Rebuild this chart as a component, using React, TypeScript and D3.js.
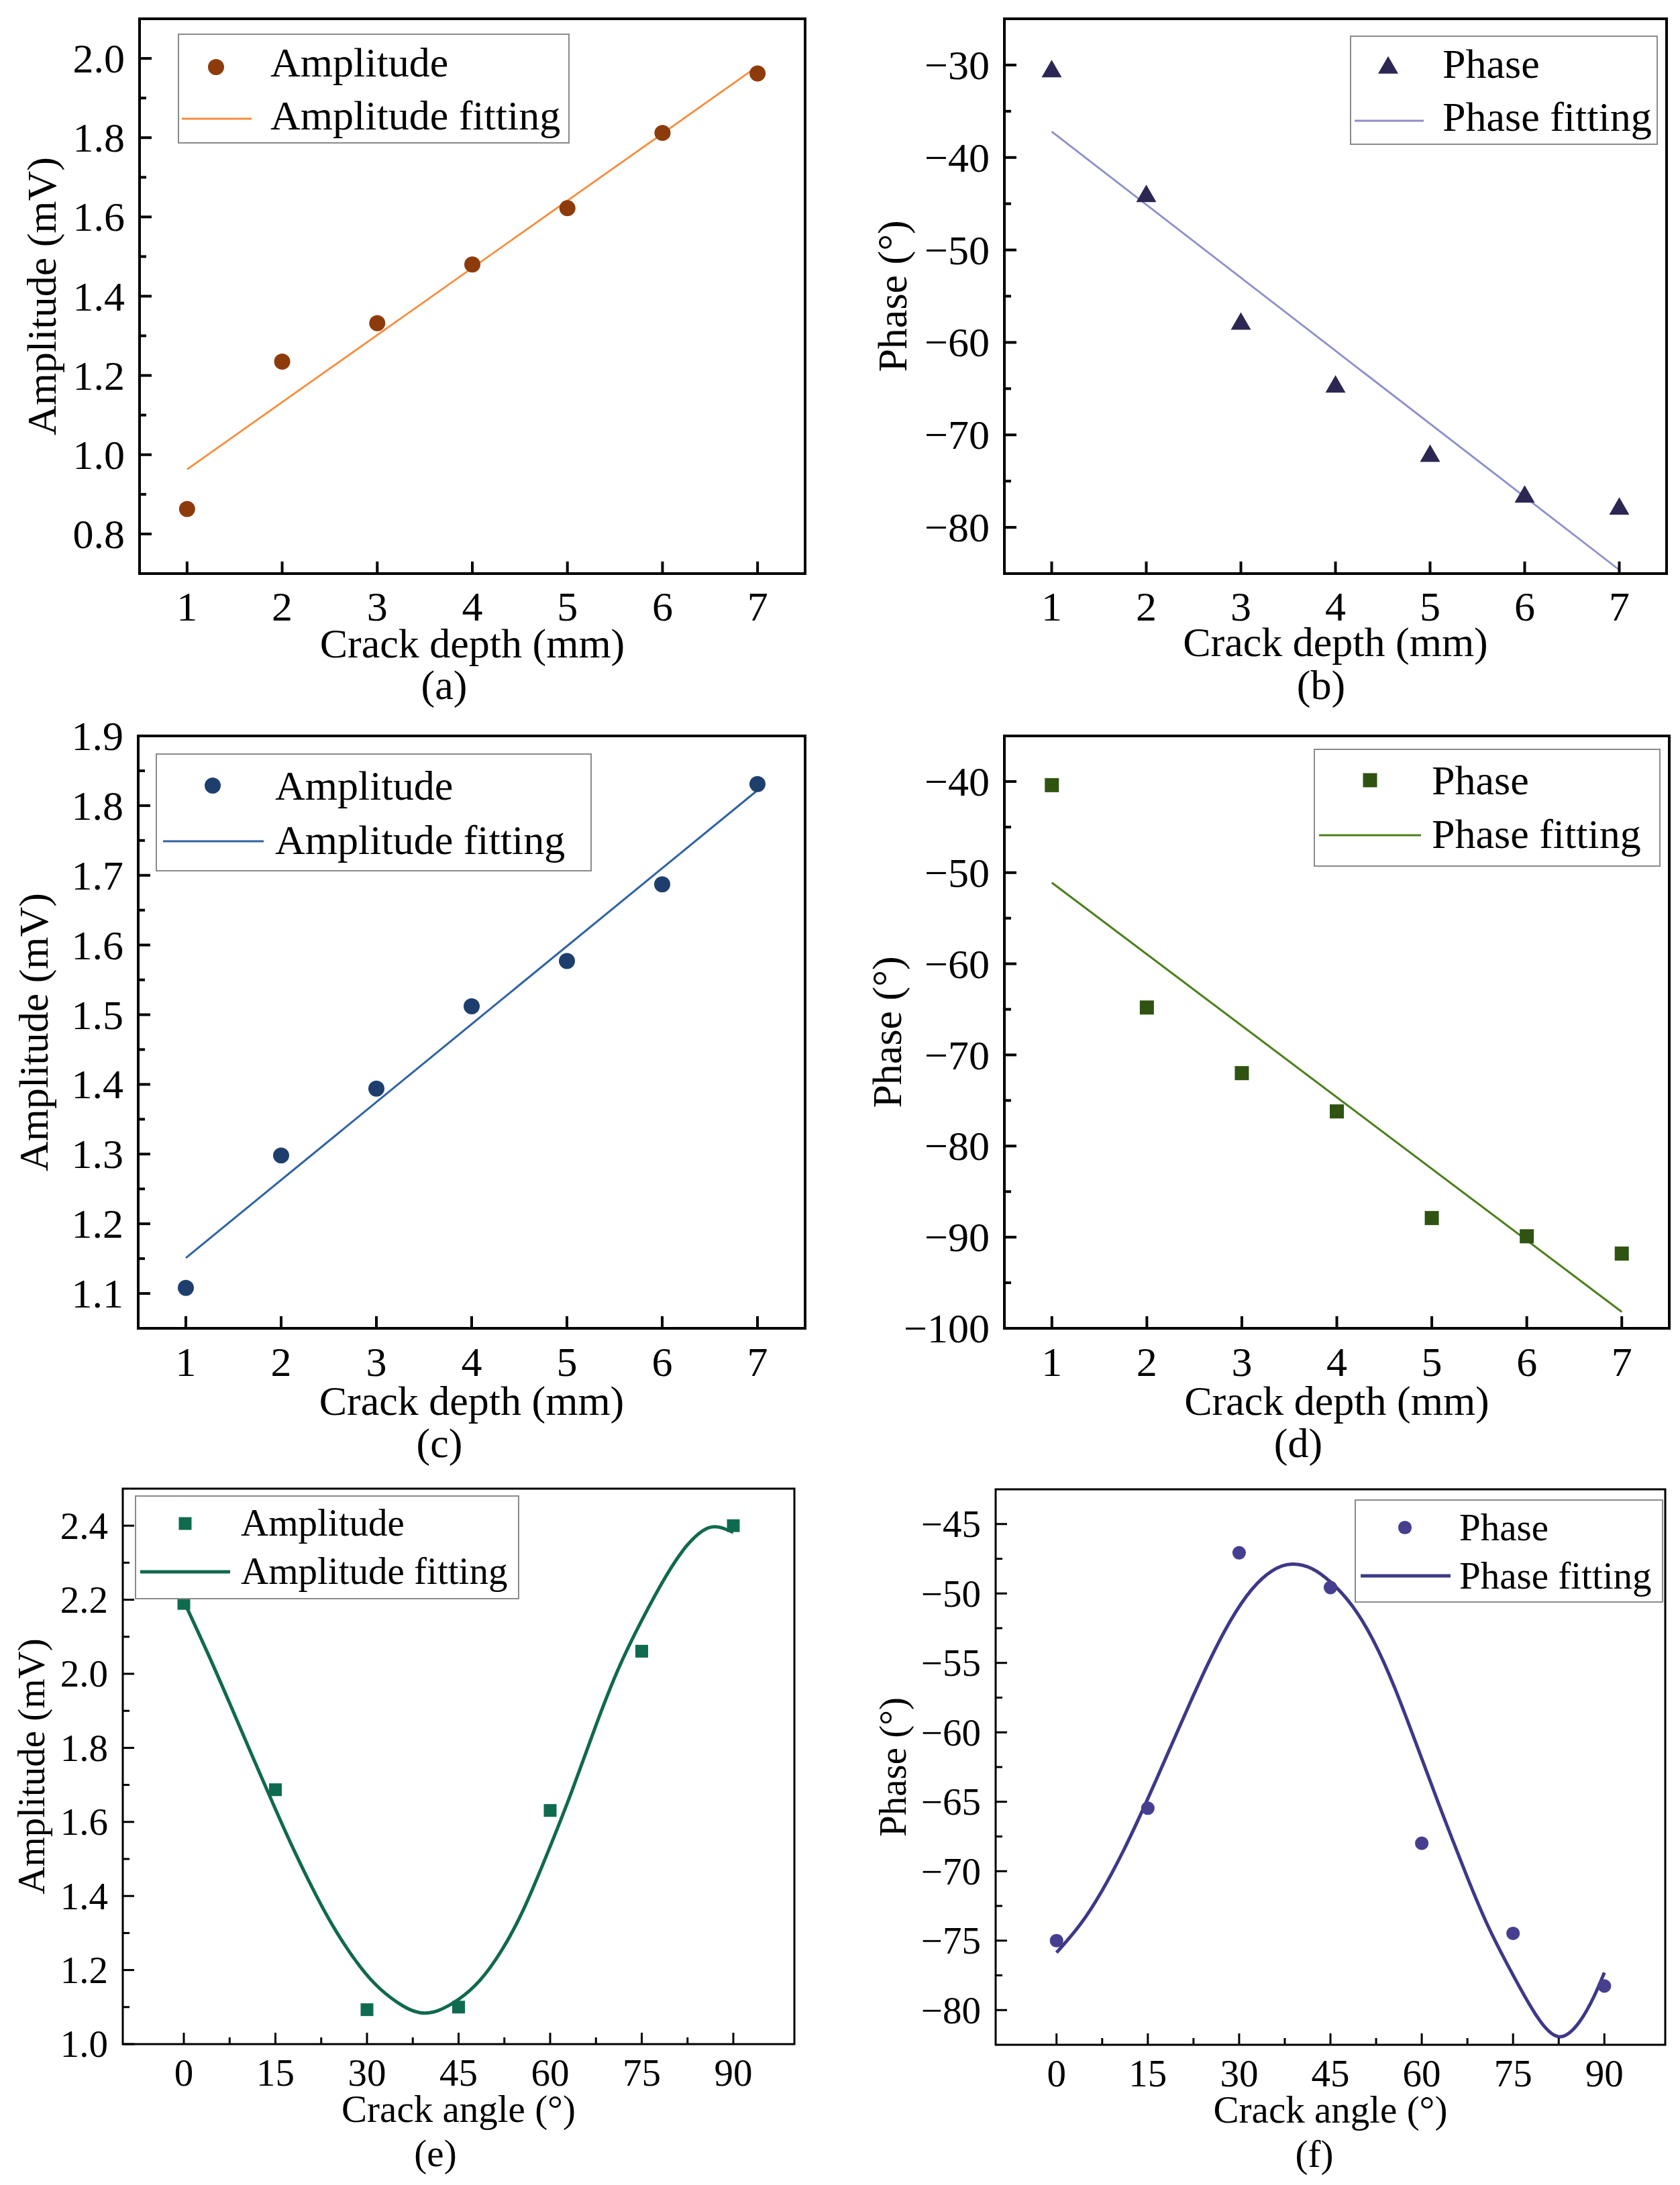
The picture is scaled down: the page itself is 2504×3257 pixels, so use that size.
import React from "react";
import * as d3 from "d3";

// ---- data ----
const depth = [1, 2, 3, 4, 5, 6, 7];
const fitDepth = [1, 7];
const angle = [0, 15, 30, 45, 60, 75, 90];

const ampA = [0.863, 1.235, 1.332, 1.48, 1.622, 1.812, 1.962];
const ampAFit = [0.963, 1.98];
const phaseB = [-30.7, -44.2, -58.0, -64.8, -72.3, -76.7, -78.0];
const phaseBFit = [-37.2, -84.6];
const ampC = [1.108, 1.298, 1.394, 1.512, 1.577, 1.687, 1.831];
const ampCFit = [1.151, 1.822];
const phaseD = [-40.4, -64.8, -72.0, -76.2, -87.9, -89.9, -91.8];
const phaseDFit = [-51.1, -98.2];
const ampE = [2.19, 1.687, 1.093, 1.1, 1.631, 2.061, 2.4];
const phaseF = [-75.0, -65.46, -47.07, -49.57, -67.99, -74.48, -78.27];

// fitted curves of (e) and (f), sampled along the drawn curve
const fitAngleE = [0, 4, 7.5, 11, 15, 18, 22, 25, 29, 32, 36, 38.7, 41.5, 45, 48.5, 52, 55.5, 60, 63.5, 67.5, 71, 75, 79, 82.5, 86, 88, 90];
const ampEFit = [2.196, 2.054, 1.921, 1.786, 1.634, 1.523, 1.389, 1.3, 1.203, 1.148, 1.099, 1.081, 1.086, 1.118, 1.167, 1.248, 1.352, 1.533, 1.678, 1.863, 2.013, 2.146, 2.268, 2.355, 2.402, 2.396, 2.382];
const fitAngleF = [0, 4, 7.5, 11, 15, 18, 22, 25, 28.5, 32, 35.5, 38.7, 42, 45, 48.5, 52, 55.5, 60, 63.5, 67.5, 71, 75, 79, 82.5, 86, 88.5, 90];
const phaseFFit = [-75.86, -73.9, -71.45, -68.6, -64.8, -61.8, -57.8, -54.9, -51.9, -49.6, -48.2, -47.75, -48.1, -49.1, -50.7, -53.2, -56.6, -61.9, -66.0, -70.5, -74.2, -77.5, -80.7, -82.45, -81.0, -78.9, -77.3];

// ticks
const depthTicks = [1, 2, 3, 4, 5, 6, 7];
const angleTicks = [0, 15, 30, 45, 60, 75, 90];
const angleMinor = [7.5, 22.5, 37.5, 52.5, 67.5, 82.5];
const ampATicks = [0.8, 1.0, 1.2, 1.4, 1.6, 1.8, 2.0];
const ampAMinor = [0.9, 1.1, 1.3, 1.5, 1.7, 1.9];
const phaseBTicks = [-80, -70, -60, -50, -40, -30];
const phaseBMinor = [-75, -65, -55, -45, -35];
const ampCTicks = [1.1, 1.2, 1.3, 1.4, 1.5, 1.6, 1.7, 1.8, 1.9];
const ampCMinor = [1.15, 1.25, 1.35, 1.45, 1.55, 1.65, 1.75, 1.85];
const phaseDTicks = [-100, -90, -80, -70, -60, -50, -40];
const phaseDMinor = [-95, -85, -75, -65, -55, -45];
const ampETicks = [1.0, 1.2, 1.4, 1.6, 1.8, 2.0, 2.2, 2.4];
const ampEMinor = [1.1, 1.3, 1.5, 1.7, 1.9, 2.1, 2.3];
const phaseFTicks = [-80, -75, -70, -65, -60, -55, -50, -45];
const phaseFMinor = [-77.5, -72.5, -67.5, -62.5, -57.5, -52.5, -47.5];

const FONT = "'Liberation Serif', 'Times New Roman', serif";

type Legend = {
  box: [number, number, number, number];
  mx: number; my: number;
  lx: [number, number]; ly: number;
  tx: number; b1: number; b2: number;
  names: [string, string];
};

type Cfg = {
  box: [number, number, number, number];
  xDomain: [number, number]; yDomain: [number, number];
  xTicks: number[]; xMinor: number[]; yTicks: number[]; yMinor: number[];
  yFormat: string;
  xs: number[]; ys: number[]; fitX: number[]; fitY: number[]; smooth: boolean;
  marker: d3.SymbolType; markerSize: number; markerColor: string;
  lineColor: string; lineWidth: number;
  font: number; axisWidth: number; tickMajor: number; tickMinor: number;
  xTitle: string; yTitle: string; yTitleX: number;
  label: string; labelX: number; offs: [number, number, number];
  legend: Legend;
};

function Panel({ p }: { p: Cfg }) {
  const [l, t, r, b] = p.box;
  const x = d3.scaleLinear().domain(p.xDomain).range([l, r]);
  const y = d3.scaleLinear().domain(p.yDomain).range([b, t]);
  const fmt = d3.format(p.yFormat);
  const line = d3
    .line<number>()
    .x((_, i) => x(p.fitX[i]))
    .y((d) => y(d));
  if (p.smooth) line.curve(d3.curveBasis);
  const sym = d3.symbol().type(p.marker).size(p.markerSize)() || "";
  const lg = p.legend;
  const tickStroke = { stroke: "#000", strokeWidth: p.axisWidth };

  return (
    <g fontFamily={FONT} fontSize={p.font} fill="#000">
      <path d={line(p.fitY) || ""} fill="none" stroke={p.lineColor} strokeWidth={p.lineWidth} />
      {p.xs.map((d, i) => (
        <path key={i} d={sym} transform={`translate(${x(d)},${y(p.ys[i])})`} fill={p.markerColor} />
      ))}

      {/* legend */}
      <rect x={lg.box[0]} y={lg.box[1]} width={lg.box[2] - lg.box[0]} height={lg.box[3] - lg.box[1]}
        fill="#fff" stroke="#8a8a8a" strokeWidth={2} />
      <path d={sym} transform={`translate(${lg.mx},${lg.my})`} fill={p.markerColor} />
      <line x1={lg.lx[0]} x2={lg.lx[1]} y1={lg.ly} y2={lg.ly} stroke={p.lineColor} strokeWidth={p.lineWidth} />
      <text x={lg.tx} y={lg.b1}>{lg.names[0]}</text>
      <text x={lg.tx} y={lg.b2}>{lg.names[1]}</text>

      {/* frame */}
      <rect x={l} y={t} width={r - l} height={b - t} fill="none" stroke="#000" strokeWidth={p.axisWidth} />

      {p.xTicks.map((v) => (
        <g key={"xt" + v}>
          <line x1={x(v)} x2={x(v)} y1={b} y2={b - p.tickMajor} {...tickStroke} />
          <text x={x(v)} y={b + p.offs[0]} textAnchor="middle">{v}</text>
        </g>
      ))}
      {p.xMinor.map((v) => (
        <line key={"xm" + v} x1={x(v)} x2={x(v)} y1={b} y2={b - p.tickMinor} {...tickStroke} />
      ))}
      {p.yTicks.map((v) => (
        <g key={"yt" + v}>
          <line x1={l} x2={l + p.tickMajor} y1={y(v)} y2={y(v)} {...tickStroke} />
          <text x={l - 22} y={y(v)} dy="0.34em" textAnchor="end">{fmt(v)}</text>
        </g>
      ))}
      {p.yMinor.map((v) => (
        <line key={"ym" + v} x1={l} x2={l + p.tickMinor} y1={y(v)} y2={y(v)} {...tickStroke} />
      ))}

      <text x={(l + r) / 2} y={b + p.offs[1]} textAnchor="middle">{p.xTitle}</text>
      <text x={p.labelX} y={b + p.offs[2]} textAnchor="middle">{p.label}</text>
      <text transform={`translate(${p.yTitleX},${(t + b) / 2}) rotate(-90)`} textAnchor="middle">{p.yTitle}</text>
    </g>
  );
}

const circle = d3.symbolCircle;
const square = d3.symbolSquare;
const triangle = d3.symbolTriangle;

const panels: Cfg[] = [
  {
    box: [208, 28, 1200, 855], xDomain: [0.5, 7.5], yDomain: [0.7, 2.1],
    xTicks: depthTicks, xMinor: [], yTicks: ampATicks, yMinor: ampAMinor, yFormat: ".1f",
    xs: depth, ys: ampA, fitX: fitDepth, fitY: ampAFit, smooth: false,
    marker: circle, markerSize: 452, markerColor: "#8E3B0B", lineColor: "#F88D3E", lineWidth: 2.8,
    font: 62, axisWidth: 4, tickMajor: 18, tickMinor: 10,
    xTitle: "Crack depth (mm)", yTitle: "Amplitude (mV)", yTitleX: 83,
    label: "(a)", labelX: 662, offs: [70, 125, 187],
    legend: { box: [266, 51, 848, 213], mx: 322, my: 100, lx: [271, 375], ly: 177, tx: 403, b1: 114, b2: 193, names: ["Amplitude", "Amplitude fitting"] },
  },
  {
    box: [1497, 28, 2484, 855], xDomain: [0.5, 7.5], yDomain: [-85, -25],
    xTicks: depthTicks, xMinor: [], yTicks: phaseBTicks, yMinor: phaseBMinor, yFormat: "d",
    xs: depth, ys: phaseB, fitX: fitDepth, fitY: phaseBFit, smooth: false,
    marker: triangle, markerSize: 390, markerColor: "#2B2752", lineColor: "#8C8ECC", lineWidth: 2.8,
    font: 62, axisWidth: 4, tickMajor: 18, tickMinor: 10,
    xTitle: "Crack depth (mm)", yTitle: "Phase (°)", yTitleX: 1351,
    label: "(b)", labelX: 1969, offs: [70, 123, 187],
    legend: { box: [2013, 54, 2470, 215], mx: 2069, my: 101, lx: [2019, 2122], ly: 180, tx: 2150, b1: 116, b2: 195, names: ["Phase", "Phase fitting"] },
  },
  {
    box: [206, 1097, 1200, 1980], xDomain: [0.5, 7.5], yDomain: [1.05, 1.9],
    xTicks: depthTicks, xMinor: [], yTicks: ampCTicks, yMinor: ampCMinor, yFormat: ".1f",
    xs: depth, ys: ampC, fitX: fitDepth, fitY: ampCFit, smooth: false,
    marker: circle, markerSize: 452, markerColor: "#1E3F6E", lineColor: "#2F62A3", lineWidth: 3,
    font: 62, axisWidth: 4, tickMajor: 18, tickMinor: 10,
    xTitle: "Crack depth (mm)", yTitle: "Amplitude (mV)", yTitleX: 71,
    label: "(c)", labelX: 655, offs: [71, 129, 192],
    legend: { box: [233, 1124, 881, 1298], mx: 317, my: 1171, lx: [243, 393], ly: 1254, tx: 410, b1: 1192, b2: 1273, names: ["Amplitude", "Amplitude fitting"] },
  },
  {
    box: [1497, 1097, 2488, 1980], xDomain: [0.5, 7.5], yDomain: [-100, -35],
    xTicks: depthTicks, xMinor: [], yTicks: phaseDTicks, yMinor: phaseDMinor, yFormat: "d",
    xs: depth, ys: phaseD, fitX: fitDepth, fitY: phaseDFit, smooth: false,
    marker: square, markerSize: 441, markerColor: "#2F5311", lineColor: "#4B7E1B", lineWidth: 3,
    font: 62, axisWidth: 4, tickMajor: 18, tickMinor: 10,
    xTitle: "Crack depth (mm)", yTitle: "Phase (°)", yTitleX: 1343,
    label: "(d)", labelX: 1935, offs: [71, 129, 192],
    legend: { box: [1959, 1117, 2474, 1291], mx: 2042, my: 1163, lx: [1966, 2118], ly: 1245, tx: 2134, b1: 1184, b2: 1264, names: ["Phase", "Phase fitting"] },
  },
  {
    box: [183, 2219, 1184, 3047], xDomain: [-10, 100], yDomain: [1.0, 2.5],
    xTicks: angleTicks, xMinor: angleMinor, yTicks: ampETicks, yMinor: ampEMinor, yFormat: ".1f",
    xs: angle, ys: ampE, fitX: fitAngleE, fitY: ampEFit, smooth: true,
    marker: square, markerSize: 361, markerColor: "#0F6B4F", lineColor: "#10694E", lineWidth: 5,
    font: 57, axisWidth: 3, tickMajor: 17, tickMinor: 10,
    xTitle: "Crack angle (°)", yTitle: "Amplitude (mV)", yTitleX: 66,
    label: "(e)", labelX: 649, offs: [62, 116, 182],
    legend: { box: [202, 2230, 773, 2383], mx: 276, my: 2271, lx: [209, 343], ly: 2343, tx: 359, b1: 2289, b2: 2361, names: ["Amplitude", "Amplitude fitting"] },
  },
  {
    box: [1484, 2220, 2482, 3048], xDomain: [-10, 100], yDomain: [-82.5, -42.5],
    xTicks: angleTicks, xMinor: angleMinor, yTicks: phaseFTicks, yMinor: phaseFMinor, yFormat: "d",
    xs: angle, ys: phaseF, fitX: fitAngleF, fitY: phaseFFit, smooth: true,
    marker: circle, markerSize: 320, markerColor: "#463F8F", lineColor: "#3E3888", lineWidth: 5,
    font: 57, axisWidth: 3, tickMajor: 17, tickMinor: 10,
    xTitle: "Crack angle (°)", yTitle: "Phase (°)", yTitleX: 1350,
    label: "(f)", labelX: 1959, offs: [62, 116, 182],
    legend: { box: [2020, 2236, 2478, 2388], mx: 2094, my: 2277, lx: [2028, 2162], ly: 2349, tx: 2175, b1: 2296, b2: 2368, names: ["Phase", "Phase fitting"] },
  },
];

export default function App() {
  return (
    <svg
      width={2504}
      height={3257}
      viewBox="0 0 2504 3257"
      style={{ position: "absolute", left: 0, top: 0, background: "#fff" }}
    >
      <rect x={0} y={0} width={2504} height={3257} fill="#fff" />
      {panels.map((p, i) => (
        <Panel key={i} p={p} />
      ))}
    </svg>
  );
}
